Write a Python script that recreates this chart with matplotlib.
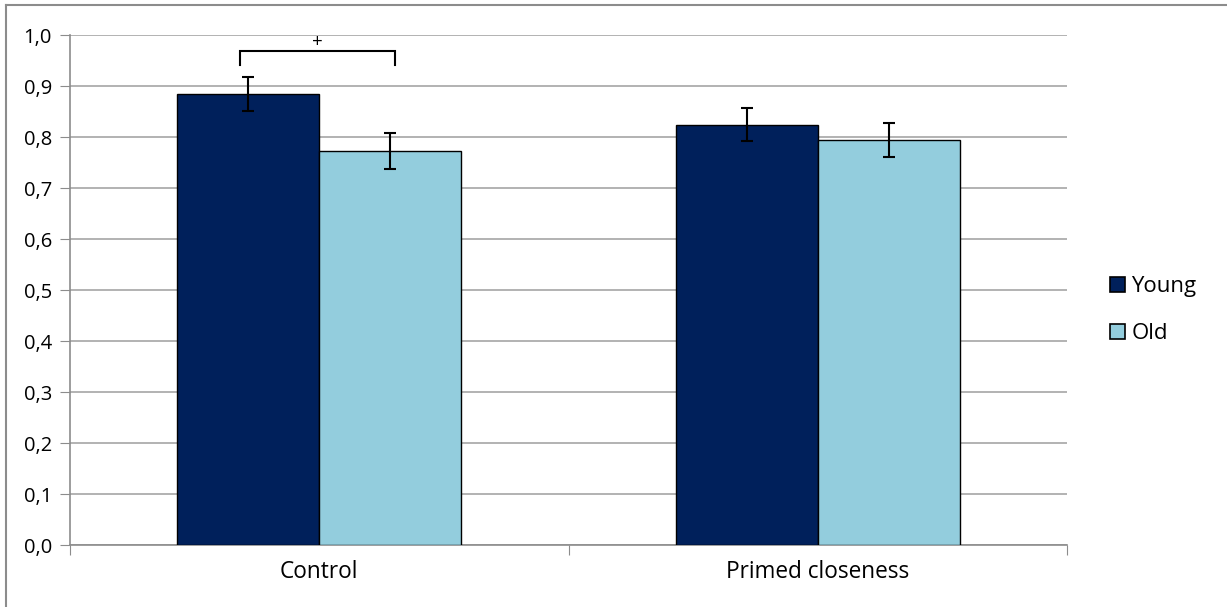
import matplotlib
matplotlib.use("Agg")
import matplotlib.pyplot as plt
from matplotlib.lines import Line2D
from matplotlib.patches import Patch
import numpy as np

plt.rcParams['font.family'] = ['Open Sans', 'DejaVu Sans']

categories = ["Control", "Primed closeness"]
series_names = ["Young", "Old"]
young = [0.884, 0.824]
old = [0.773, 0.794]
young_err = [0.033, 0.032]
old_err = [0.035, 0.034]
yticks = [0.0, 0.1, 0.2, 0.3, 0.4, 0.5, 0.6, 0.7, 0.8, 0.9, 1.0]

colors = ["#00205B", "#93CDDD"]
bar_w = 0.285

fig = plt.figure(figsize=(12.27, 6.07), dpi=100)
ax = fig.add_axes([0.05705, 0.1021, 0.8126, 0.8402])

x = np.arange(len(categories))
ax.bar(x - bar_w / 2, young, bar_w, color=colors[0], edgecolor="black", linewidth=1, zorder=3)
ax.bar(x + bar_w / 2, old, bar_w, color=colors[1], edgecolor="black", linewidth=1, zorder=3)
ax.errorbar(x - bar_w / 2, young, yerr=young_err, fmt="none", ecolor="black",
            elinewidth=1.5, capsize=4, capthick=1.5, zorder=4)
ax.errorbar(x + bar_w / 2, old, yerr=old_err, fmt="none", ecolor="black",
            elinewidth=1.5, capsize=4, capthick=1.5, zorder=4)

# significance bracket over the control group
bx0, bx1, by, bfoot = -0.16, 0.152, 0.969, 0.941
ax.plot([bx0, bx0, bx1, bx1], [bfoot, by, by, bfoot], color="black", lw=1.5, zorder=4,
        solid_joinstyle="miter")
ax.text((bx0 + bx1) / 2, by - 0.001, "+", ha="center", va="bottom", fontsize=13.5)

ax.set_xlim(-0.5, 1.5)
ax.set_ylim(0, 1.0)
ax.set_yticks(yticks)
ax.set_yticklabels([f"{v:.1f}".replace(".", ",") for v in yticks], fontsize=14.5)
ax.set_xticks([-0.5, 0.5, 1.5], minor=False)
ax.set_xticklabels([])
ax.set_xticks(x, minor=True)
ax.set_xticklabels(categories, minor=True, fontsize=16.3)
ax.tick_params(axis="x", which="minor", length=0, pad=11)
ax.tick_params(axis="x", which="major", length=7, color="#8C8C8C", direction="out")
ax.tick_params(axis="y", length=7, color="#8C8C8C", direction="out", pad=6)
ax.yaxis.grid(True, color="#A6A6A6", lw=1.2, zorder=0)
ax.set_axisbelow(True)
for s in ["top", "right"]:
    ax.spines[s].set_visible(False)
for s in ["left", "bottom"]:
    ax.spines[s].set_color("#8C8C8C")
    ax.spines[s].set_linewidth(1.2)

handles = [Patch(facecolor=c, edgecolor="black", lw=1.2) for c in colors]
leg = fig.legend(handles, series_names, loc="center left", bbox_to_anchor=(0.888, 0.489),
                 frameon=False, fontsize=16, handlelength=0.68, handleheight=0.68,
                 handletextpad=0.3, labelspacing=1.15)

# outer chart frame
fig.add_artist(Line2D([6 / 1227, 1.0], [1 - 5 / 607, 1 - 5 / 607], transform=fig.transFigure,
                      color="#8C8C8C", lw=1.5))
fig.add_artist(Line2D([6 / 1227, 6 / 1227], [0, 1 - 5 / 607], transform=fig.transFigure,
                      color="#8C8C8C", lw=1.5))

fig.savefig("out.png", dpi=100)
